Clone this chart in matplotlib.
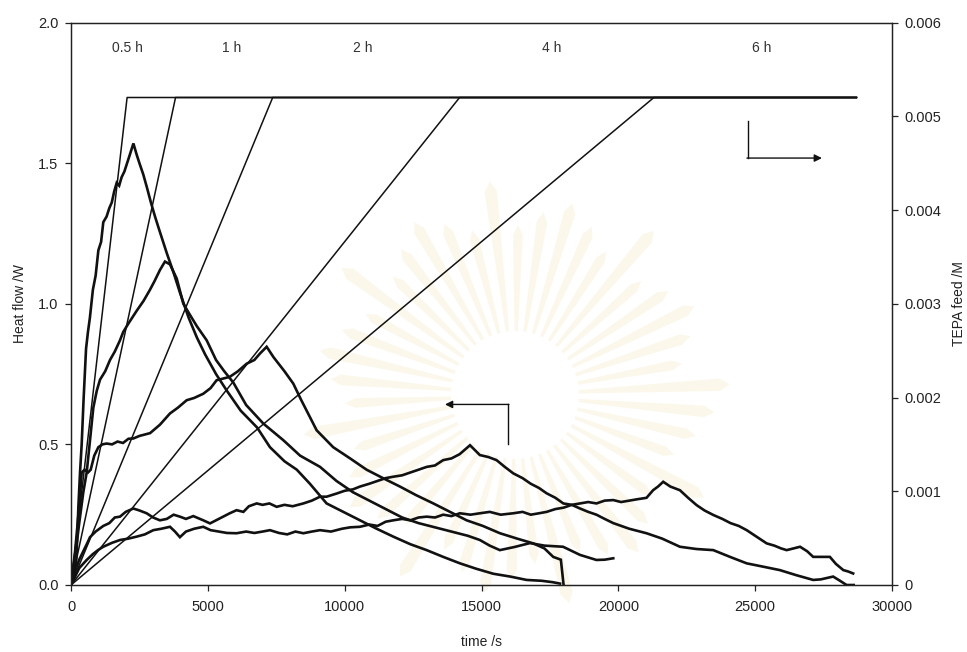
import numpy as np
import matplotlib
matplotlib.use("Agg")
import matplotlib.pyplot as plt
from matplotlib.patches import Polygon
from matplotlib.ticker import FixedLocator, FixedFormatter

plt.rcParams['font.family'] = ['Liberation Sans', 'DejaVu Sans']

# ---------------- data ----------------
# TEPA feed profiles: linear ramp to the final concentration, then constant
feed_labels = ["0.5 h", "1 h", "2 h", "4 h", "6 h"]
feed_ramp_end_s = [2050, 3820, 7370, 14200, 21300]
feed_final_M = 0.0052
feed_stop_s = 28700
feed_label_x_s = [2080, 5870, 10660, 17560, 25250]

# Heat flow curves (time /s, heat flow /W)
hf_05h_t = [0, 120, 200, 270, 330, 390, 460, 550, 620, 690, 800, 900, 1000, 1100, 1180,
            1300, 1400, 1490, 1580, 1670, 1760, 1850, 1950, 2050, 2150, 2280, 2400, 2500,
            2640, 2770, 2920, 3070, 3200, 3300, 3500, 3750, 3980, 4300, 4600, 4900, 5300,
            5700, 6200, 6800, 7270, 7800, 8250, 8730, 9340, 9950, 10560, 11170, 11776,
            12400, 12996, 13600, 14213, 14800, 15430, 16050, 16650, 17200, 17600, 17870]
hf_05h_w = [0, 0.03, 0.10, 0.28, 0.40, 0.50, 0.66, 0.84, 0.90, 0.95, 1.05, 1.10, 1.19, 1.22,
            1.29, 1.31, 1.34, 1.36, 1.40, 1.43, 1.42, 1.45, 1.47, 1.50, 1.53, 1.57, 1.53,
            1.50, 1.46, 1.415, 1.36, 1.31, 1.27, 1.24, 1.18, 1.11, 1.04, 0.95, 0.88, 0.82,
            0.75, 0.69, 0.62, 0.56, 0.49, 0.44, 0.41, 0.36, 0.29, 0.26, 0.23, 0.20, 0.172,
            0.145, 0.124, 0.10, 0.077, 0.058, 0.04, 0.03, 0.018, 0.015, 0.01, 0.005]

hf_1h_t = [0, 150, 300, 450, 573, 700, 815, 940, 1060, 1250, 1425, 1600, 1790, 1910, 2100,
           2400, 2650, 2887, 3050, 3250, 3434, 3617, 3862, 4105, 4350, 4600, 4958, 5300,
           5600, 5930, 6400, 7027, 7757, 8370, 9100, 9700, 10300, 10900, 11500, 12100,
           12700, 13300, 13900, 14500, 14940, 15300, 15670, 16200, 16770, 17300, 17980,
           18600, 19200, 19500, 19815]
hf_1h_w = [0, 0.10, 0.22, 0.33, 0.40, 0.52, 0.63, 0.69, 0.73, 0.76, 0.80, 0.83, 0.87, 0.90,
           0.93, 0.975, 1.01, 1.05, 1.08, 1.12, 1.15, 1.14, 1.09, 1.00, 0.96, 0.92, 0.87,
           0.80, 0.76, 0.72, 0.64, 0.574, 0.515, 0.46, 0.42, 0.37, 0.33, 0.30, 0.27, 0.24,
           0.22, 0.205, 0.19, 0.175, 0.16, 0.14, 0.124, 0.135, 0.149, 0.14, 0.136, 0.107,
           0.089, 0.09, 0.095]

hf_2h_t = [0, 150, 300, 390, 500, 620, 720, 850, 1000, 1150, 1300, 1500, 1700, 1900, 2100,
           2280, 2500, 2890, 3250, 3617, 3900, 4227, 4500, 4833, 5100, 5320, 5600, 5800,
           6100, 6420, 6700, 6905, 7150, 7400, 7800, 8123, 8400, 8977, 9580, 10200, 10800,
           11400, 12020, 12600, 13240, 13850, 14457, 15050, 15674, 16300, 16890, 17300,
           17620, 17900, 18000]
hf_2h_w = [0, 0.12, 0.28, 0.40, 0.41, 0.40, 0.41, 0.46, 0.49, 0.50, 0.503, 0.50, 0.51, 0.505,
           0.52, 0.521, 0.53, 0.54, 0.57, 0.61, 0.63, 0.657, 0.665, 0.68, 0.70, 0.728, 0.735,
           0.74, 0.76, 0.787, 0.80, 0.823, 0.847, 0.81, 0.76, 0.716, 0.66, 0.55, 0.49, 0.45,
           0.41, 0.38, 0.35, 0.32, 0.29, 0.26, 0.23, 0.21, 0.184, 0.165, 0.148, 0.13, 0.10,
           0.09, 0.0]

hf_4h_t = [0, 150, 300, 450, 600, 694, 900, 1180, 1400, 1600, 1790, 2000, 2276, 2500, 2765,
           3000, 3250, 3500, 3750, 3980, 4200, 4470, 4833, 5080, 5300, 5600, 5800, 6050,
           6300, 6500, 6785, 7000, 7250, 7515, 7800, 8100, 8490, 8800, 9100, 9340, 9700,
           10000, 10300, 10560, 10900, 11200, 11500, 11776, 12100, 12400, 12700, 13000,
           13300, 13600, 13900, 14200, 14580, 14940, 15250, 15550, 15850, 16160, 16500,
           16800, 17100, 17380, 17700, 17990, 18300, 18600, 18900, 19200, 19500, 19815,
           20400, 21030, 21600, 22250, 22850, 23470, 24080, 24690, 25300, 25900, 26500,
           27120, 27400, 27850, 28100, 28340, 28600]
hf_4h_w = [0, 0.05, 0.09, 0.12, 0.15, 0.17, 0.19, 0.21, 0.22, 0.24, 0.243, 0.26, 0.272,
           0.265, 0.255, 0.24, 0.23, 0.235, 0.25, 0.243, 0.235, 0.245, 0.23, 0.219, 0.23,
           0.245, 0.255, 0.266, 0.26, 0.28, 0.29, 0.285, 0.29, 0.278, 0.285, 0.28, 0.29, 0.30,
           0.314, 0.314, 0.325, 0.335, 0.34, 0.35, 0.36, 0.37, 0.38, 0.385, 0.39, 0.40, 0.41,
           0.42, 0.425, 0.444, 0.45, 0.465, 0.497, 0.462, 0.455, 0.444, 0.42, 0.397, 0.38,
           0.36, 0.345, 0.326, 0.31, 0.29, 0.285, 0.272, 0.26, 0.25, 0.235, 0.22, 0.20,
           0.184, 0.165, 0.136, 0.128, 0.124, 0.10, 0.077, 0.065, 0.053, 0.035, 0.018, 0.02,
           0.03, 0.015, 0.0, 0.0]

hf_6h_t = [0, 150, 300, 573, 800, 1000, 1180, 1500, 1790, 2100, 2400, 2700, 3007, 3300,
           3617, 3800, 3980, 4200, 4500, 4833, 5100, 5400, 5700, 6050, 6400, 6700, 7000,
           7270, 7600, 7900, 8200, 8490, 8800, 9100, 9500, 9900, 10200, 10560, 10900, 11200,
           11500, 11776, 12100, 12400, 12700, 13000, 13300, 13600, 13900, 14210, 14600,
           14940, 15300, 15700, 16160, 16500, 16800, 17100, 17380, 17700, 18000, 18300,
           18600, 18900, 19200, 19500, 19815, 20100, 20400, 20700, 21030, 21270, 21450,
           21640, 21900, 22250, 22550, 22860, 23150, 23470, 23800, 24100, 24400, 24690,
           25000, 25420, 25700, 25950, 26150, 26400, 26640, 26900, 27120, 27400, 27730,
           27950, 28220, 28400, 28580]
hf_6h_w = [0, 0.03, 0.06, 0.089, 0.11, 0.125, 0.136, 0.15, 0.16, 0.165, 0.172, 0.18, 0.195,
           0.20, 0.207, 0.19, 0.17, 0.19, 0.20, 0.207, 0.195, 0.19, 0.185, 0.184, 0.19,
           0.185, 0.19, 0.195, 0.185, 0.18, 0.19, 0.184, 0.19, 0.195, 0.19, 0.20, 0.205,
           0.207, 0.215, 0.21, 0.225, 0.23, 0.235, 0.23, 0.24, 0.243, 0.24, 0.25, 0.245,
           0.255, 0.25, 0.255, 0.26, 0.25, 0.255, 0.26, 0.25, 0.255, 0.26, 0.27, 0.275,
           0.285, 0.29, 0.295, 0.29, 0.30, 0.302, 0.295, 0.30, 0.305, 0.31, 0.337, 0.35,
           0.367, 0.35, 0.337, 0.31, 0.284, 0.265, 0.249, 0.235, 0.22, 0.21, 0.195, 0.175,
           0.148, 0.14, 0.13, 0.124, 0.13, 0.136, 0.12, 0.10, 0.10, 0.10, 0.075, 0.053, 0.048,
           0.041]

heat_series = [(hf_05h_t, hf_05h_w), (hf_1h_t, hf_1h_w), (hf_2h_t, hf_2h_w),
               (hf_4h_t, hf_4h_w), (hf_6h_t, hf_6h_w)]

x_ticks = [0, 5000, 10000, 15000, 20000, 25000, 30000]
left_ticks = [0.0, 0.5, 1.0, 1.5, 2.0]
left_tick_labels = ["0.0", "0.5", "1.0", "1.5", "2.0"]
right_ticks = [0, 0.001, 0.002, 0.003, 0.004, 0.005, 0.006]
right_tick_labels = ["0", "0.001", "0.002", "0.003", "0.004", "0.005", "0.006"]

# ---------------- figure ----------------
W_PX, H_PX = 967, 652
fig = plt.figure(figsize=(W_PX / 100, H_PX / 100), dpi=100)
fig.patch.set_facecolor("white")

# faint sunburst emblem printed behind the plot
cx, cy = 515, 395
n_rays = 46
for k in range(n_rays):
    a = 2 * np.pi * k / n_rays + 0.05
    half = np.deg2rad(2.9)
    r0 = 64
    r1 = 160 + 30 * ((k % 3) == 0) + 15 * ((k % 2) == 0)
    pts = [(cx + r0 * np.cos(a - half * 0.5), cy - r0 * np.sin(a - half * 0.5)),
           (cx + r1 * np.cos(a - half * 0.6), cy - r1 * np.sin(a - half * 0.6)),
           (cx + (r1 + 10) * np.cos(a), cy - (r1 + 10) * np.sin(a)),
           (cx + r1 * np.cos(a + half * 0.6), cy - r1 * np.sin(a + half * 0.6)),
           (cx + r0 * np.cos(a + half * 0.5), cy - r0 * np.sin(a + half * 0.5))]
    pts = [(x / W_PX, 1 - y / H_PX) for x, y in pts]
    fig.patches.append(Polygon(pts, closed=True, transform=fig.transFigure,
                               facecolor="#f8f1d9", edgecolor="none", alpha=0.55,
                               zorder=-5))

ax = fig.add_axes([71 / W_PX, 1 - 585 / H_PX, (892 - 71) / W_PX, (585 - 22.5) / H_PX])
ax.set_facecolor("none")
ax2 = ax.twinx()
ax2.set_facecolor("none")

ax.set_xlim(0, 30000)
ax.set_ylim(0, 2.0)
ax2.set_ylim(0, 0.006)

ink = "#111111"
for t, w in heat_series:
    ax.plot(t, w, color=ink, lw=1.9, solid_joinstyle="miter")

for t_end in feed_ramp_end_s:
    ax2.plot([0, t_end, feed_stop_s], [0, feed_final_M, feed_final_M],
             color=ink, lw=1.1)

for lab, xs in zip(feed_labels, feed_label_x_s):
    ax.text(xs, 1.908, lab, ha="center", va="center", fontsize=10, color="#333333")

# direction arrows pointing to the relevant axis
ax.plot([24735, 24735], [1.649, 1.518], color=ink, lw=1.0)
ax.annotate("", xy=(27440, 1.518), xytext=(24700, 1.518),
            arrowprops=dict(arrowstyle="-|>", color=ink, lw=1.0, mutation_scale=11,
                            shrinkA=0, shrinkB=0))
ax.plot([15975, 15975], [0.642, 0.501], color=ink, lw=1.0)
ax.annotate("", xy=(13665, 0.642), xytext=(16000, 0.642),
            arrowprops=dict(arrowstyle="-|>", color=ink, lw=1.0, mutation_scale=11,
                            shrinkA=0, shrinkB=0))

# axes, ticks, labels
for a_ in (ax, ax2):
    for s in a_.spines.values():
        s.set_linewidth(0.9)
        s.set_color("#222222")

ax.xaxis.set_major_locator(FixedLocator(x_ticks))
ax.set_xticklabels([str(v) for v in x_ticks])
ax.yaxis.set_major_locator(FixedLocator(left_ticks))
ax.yaxis.set_major_formatter(FixedFormatter(left_tick_labels))
ax2.yaxis.set_major_locator(FixedLocator(right_ticks))
ax2.yaxis.set_major_formatter(FixedFormatter(right_tick_labels))

ax.tick_params(axis="x", direction="out", length=4, width=0.9, pad=7,
               labelsize=10.5, colors="#222222")
ax.tick_params(axis="y", direction="out", length=4, width=0.9, pad=5,
               labelsize=10.5, colors="#222222")
ax2.tick_params(axis="y", direction="out", length=4, width=0.9, pad=5,
                labelsize=10.5, colors="#222222")

ax.set_xlabel("time /s", fontsize=10, color="#222222")
ax.xaxis.set_label_coords(0.5, -0.088)
ax.set_ylabel("Heat flow /W", fontsize=10, color="#222222")
ax.yaxis.set_label_coords(-0.053, 0.5)
ax2.set_ylabel("TEPA feed /M", fontsize=10, color="#222222")
ax2.yaxis.set_label_coords(1.073, 0.5)

fig.savefig("out.png", dpi=100)
